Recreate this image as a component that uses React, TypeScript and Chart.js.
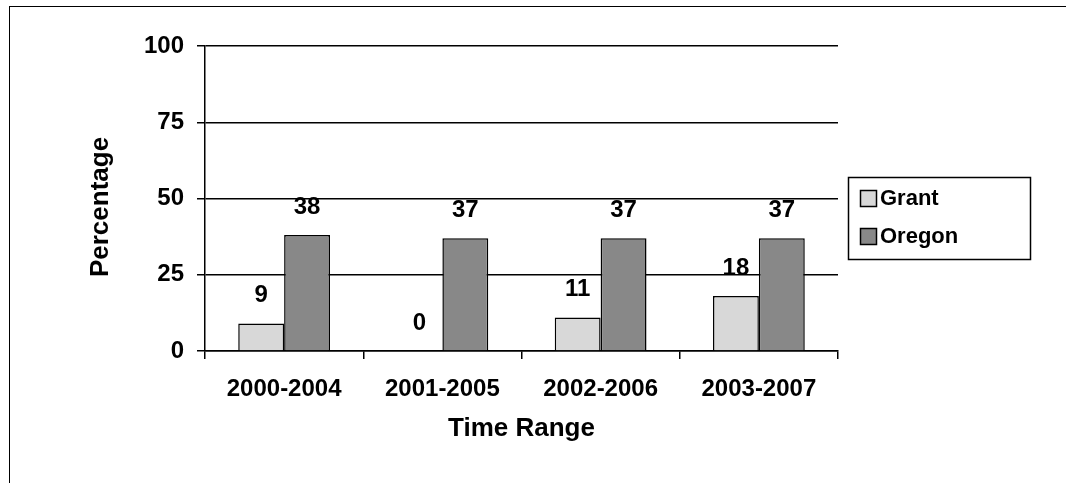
import React, { useEffect, useRef } from "react";
import { Chart, registerables } from "chart.js";
Chart.register(...registerables);

const categories = ["2000-2004", "2001-2005", "2002-2006", "2003-2007"];
const grant = [9, 0, 11, 18];
const oregon = [38, 37, 37, 37];
const seriesNames = ["Grant", "Oregon"];
const yTicks = [0, 25, 50, 75, 100];
const xTitle = "Time Range";
const yTitle = "Percentage";
const FONT = "'Liberation Sans', Arial, sans-serif";

const labelPlugin = {
  id: "vals",
  afterDatasetsDraw(chart: any) {
    const ctx = chart.ctx;
    const area = chart.chartArea;
    ctx.save();
    ctx.font = `bold 24px ${FONT}`;
    ctx.fillStyle = "#000";
    ctx.textAlign = "center";
    ctx.textBaseline = "middle";
    chart.data.datasets.forEach((ds: any, i: number) => {
      const meta = chart.getDatasetMeta(i);
      meta.data.forEach((bar: any, j: number) => {
        ctx.fillText(String(ds.data[j]), bar.x, bar.y - 28);
      });
    });
    // axis titles
    ctx.font = `bold 26px ${FONT}`;
    ctx.fillText(xTitle, (area.left + area.right) / 2, 429);
    ctx.save();
    ctx.translate(101, 207);
    ctx.rotate(-Math.PI / 2);
    ctx.fillText(yTitle, 0, 0);
    ctx.restore();
    // legend
    const lx = 848, ly = 177, lw = 182, lh = 82;
    ctx.lineWidth = 1.5;
    ctx.strokeStyle = "#000";
    ctx.strokeRect(lx + 0.5, ly + 0.5, lw, lh);
    ctx.textAlign = "left";
    chart.data.datasets.forEach((ds: any, i: number) => {
      const y = ly + 21 + i * 38;
      ctx.fillStyle = ds.backgroundColor;
      ctx.fillRect(lx + 12, y - 8, 16, 16);
      ctx.strokeRect(lx + 12.5, y - 7.5, 16, 16);
      ctx.fillStyle = "#000";
      ctx.font = `bold 22px ${FONT}`;
      ctx.fillText(ds.label, lx + 32, y + 1);
    });
    ctx.restore();
  },
};

export default function App() {
  const ref = useRef<HTMLCanvasElement>(null);
  useEffect(() => {
    const chart = new Chart(ref.current!, {
      type: "bar",
      data: {
        labels: categories,
        datasets: [
          { label: seriesNames[0], data: grant, backgroundColor: "#d8d8d8", borderColor: "#000", borderWidth: 1.5 },
          { label: seriesNames[1], data: oregon, backgroundColor: "#888888", borderColor: "#000", borderWidth: 1.5 },
        ],
      },
      options: {
        animation: false,
        responsive: false,
        maintainAspectRatio: false,
        datasets: { bar: { categoryPercentage: 0.58, barPercentage: 1 } },
        layout: { padding: { left: 0, top: 46, right: 228, bottom: 0 } },
        plugins: { legend: { display: false }, tooltip: { enabled: false } },
        scales: {
          x: {
            afterFit: (s: any) => { s.height = 132; },
            grid: { offset: true, color: "#000", lineWidth: 1.5, drawOnChartArea: false, tickLength: 8, tickColor: "#000" },
            border: { color: "#000", width: 1.5 },
            ticks: { color: "#000", font: { family: FONT, size: 24, weight: "bold" }, padding: 16 },
          },
          y: {
            min: 0, max: 100,
            afterFit: (s: any) => { s.width = 205; },
            afterBuildTicks: (s: any) => { s.ticks = yTicks.map((v) => ({ value: v })); },
            grid: { color: "#000", lineWidth: 1.5, tickLength: 8, tickColor: "#000" },
            border: { color: "#000", width: 1.5 },
            ticks: { color: "#000", font: { family: FONT, size: 24, weight: "bold" }, padding: 13 },
          },
        },
      },
      plugins: [labelPlugin],
    } as any);
    return () => chart.destroy();
  }, []);
  return (
    <div style={{ position: "absolute", left: 0, top: 0, width: 1066, height: 483 }}>
      <div style={{ position: "absolute", left: 9, top: 6, width: 1100, height: 500, borderLeft: "1px solid #000", borderTop: "1px solid #000" }} />
      <canvas ref={ref} width={1066} height={483} style={{ position: "absolute", left: 0, top: 0 }} />
    </div>
  );
}
